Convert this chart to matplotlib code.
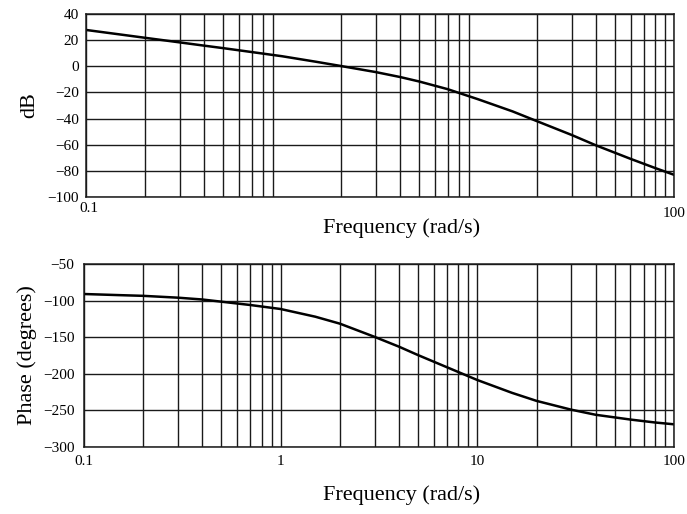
import matplotlib
matplotlib.use("Agg")
import matplotlib.pyplot as plt
import matplotlib.transforms as mtransforms

# ---- data ----
freq = [0.1, 0.15, 0.2, 0.3, 0.4, 0.5, 0.7, 1, 1.5, 2, 3, 4, 5, 7, 10,
        15, 20, 30, 40, 60, 80, 100]
mag_db = [27.8, 24.3, 21.8, 18.3, 15.8, 13.9, 10.9, 7.7, 3.4, 0.2, -4.4,
          -8.2, -11.6, -17.5, -25.2, -34.5, -42.0, -52.5, -60.5, -70.8,
          -77.8, -83.0]
phase_deg = [-91, -92.5, -93.5, -96, -98.5, -101.5, -106, -111.5, -122,
             -131.5, -149.5, -163, -174.5, -191, -208.5, -226, -237, -249,
             -256, -262.5, -266.5, -269]

mag_yticks = [40, 20, 0, -20, -40, -60, -80, -100]
phase_yticks = [-50, -100, -150, -200, -250, -300]
top_xticks = [0.1, 100]
top_xlabels = ["0.1", "100"]
bot_xticks = [0.1, 1, 10, 100]
bot_xlabels = ["0.1", "1", "10", "100"]
xlabel = "Frequency (rad/s)"

plt.rcParams['font.family'] = ['Liberation Serif', 'DejaVu Serif']

W, H = 687, 514
fig = plt.figure(figsize=(W / 100, H / 100), dpi=100)

def px_axes(l, t, r, b):
    return fig.add_axes([l / W, 1 - b / H, (r - l) / W, (b - t) / H])

ax1 = px_axes(86, 14, 674, 197)
ax2 = px_axes(84, 264, 674, 447)

grid_kw = dict(color='#1a1a1a', linewidth=1.0)

def shift(txt, dx, dy):
    txt.set_transform(txt.get_transform() +
                      mtransforms.ScaledTranslation(dx / 100, -dy / 100, fig.dpi_scale_trans))

for ax in (ax1, ax2):
    ax.set_xscale('log')
    ax.set_xlim(0.1, 100)
    ax.grid(True, which='both', axis='x', **grid_kw)
    ax.grid(True, which='major', axis='y', **grid_kw)
    ax.tick_params(which='both', length=0, labelsize=11)
    for s in ax.spines.values():
        s.set_linewidth(1.1)
        s.set_color('#1a1a1a')
    ax.set_axisbelow(True)
    ax.xaxis.set_minor_formatter(matplotlib.ticker.NullFormatter())

ax1.plot(freq, mag_db, color='black', linewidth=1.8)
ax1.set_ylim(-100, 40)
ax1.set_yticks(mag_yticks)
ax1.set_yticklabels([str(v).replace('-', '\u2212') for v in mag_yticks])
ax1.set_xticks(top_xticks)
ax1.set_xticklabels(top_xlabels)
ax1.tick_params(axis='x', pad=3)
ax1.tick_params(axis='y', pad=5)
labs = ax1.get_xticklabels()
shift(labs[0], 3, 1)
shift(labs[1], 0, 6)
ax1.set_ylabel("dB", fontsize=16, labelpad=6)

ax2.plot(freq, phase_deg, color='black', linewidth=1.8)
ax2.set_ylim(-300, -50)
ax2.set_yticks(phase_yticks)
ax2.set_yticklabels([str(v).replace('-', '\u2212') for v in phase_yticks])
ax2.set_xticks(bot_xticks)
ax2.set_xticklabels(bot_xlabels)
ax2.tick_params(axis='x', pad=6)
ax2.tick_params(axis='y', pad=7)
ax2.set_ylabel("Phase (degrees)", fontsize=16, labelpad=4)

fig.text(402 / W, 1 - 228 / H, xlabel, ha='center', va='center', fontsize=16)
fig.text(402 / W, 1 - 495 / H, xlabel, ha='center', va='center', fontsize=16)

fig.savefig("out.png", dpi=100)
